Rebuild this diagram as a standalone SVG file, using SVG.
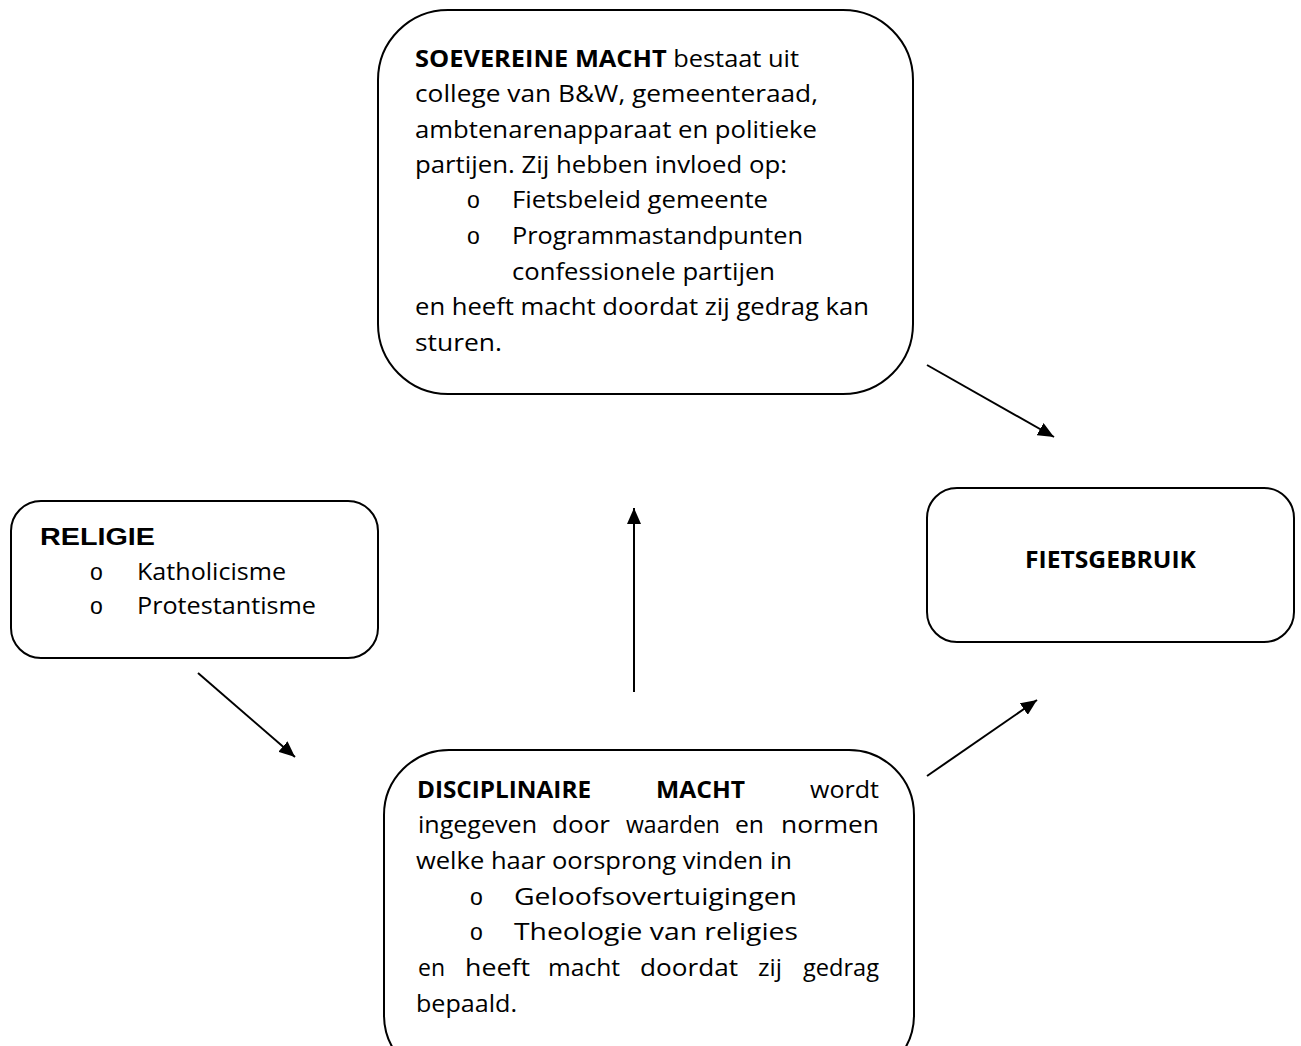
<svg xmlns="http://www.w3.org/2000/svg" width="1301" height="1046" viewBox="0 0 1301 1046">
<defs>
<marker id="ah" viewBox="0 0 16 14" refX="16" refY="7" markerWidth="16" markerHeight="14" markerUnits="userSpaceOnUse" orient="auto">
<path d="M0,0 L16,7 L0,14 z" fill="#000"/>
</marker>
<style>
.box{fill:#fff;stroke:#000;stroke-width:2}
.t{font-family:"Open Sans","Noto Sans",sans-serif;font-size:23px;fill:#000}
.b{font-weight:bold}
.o{font-family:"Liberation Sans",Arial,sans-serif;font-size:23px;fill:#000}
.a{font-family:"Liberation Sans",Arial,sans-serif;font-size:24px;font-weight:bold;fill:#000}
.c{stroke:#000;stroke-width:2;fill:none;marker-end:url(#ah)}
</style>
</defs>
<rect width="1301" height="1046" fill="#fff"/>
<g id="soevereine">
<rect class="box" x="378" y="10" width="535" height="384" rx="70" ry="70"/>
<text class="t" x="415" y="67" textLength="384" lengthAdjust="spacingAndGlyphs"><tspan class="b">SOEVEREINE MACHT</tspan> bestaat uit</text>
<text class="t" x="415" y="102" textLength="403" lengthAdjust="spacingAndGlyphs">college van B&amp;W, gemeenteraad,</text>
<text class="t" x="415" y="138" textLength="402" lengthAdjust="spacingAndGlyphs">ambtenarenapparaat en politieke</text>
<text class="t" x="415" y="173" textLength="372" lengthAdjust="spacingAndGlyphs">partijen. Zij hebben invloed op:</text>
<text class="o" x="467" y="208">o</text>
<text class="t" x="512" y="208" textLength="256" lengthAdjust="spacingAndGlyphs">Fietsbeleid gemeente</text>
<text class="o" x="467" y="244">o</text>
<text class="t" x="512" y="244" textLength="291" lengthAdjust="spacingAndGlyphs">Programmastandpunten</text>
<text class="t" x="512" y="280" textLength="263" lengthAdjust="spacingAndGlyphs">confessionele partijen</text>
<text class="t" x="415" y="315" textLength="454" lengthAdjust="spacingAndGlyphs">en heeft macht doordat zij gedrag kan</text>
<text class="t" x="415" y="351" textLength="87" lengthAdjust="spacingAndGlyphs">sturen.</text>
</g>
<g id="religie">
<rect class="box" x="11" y="501" width="367" height="157" rx="30" ry="30"/>
<text class="a" x="40" y="545" textLength="115" lengthAdjust="spacingAndGlyphs">RELIGIE</text>
<text class="o" x="90" y="580">o</text>
<text class="t" x="137" y="580" textLength="149" lengthAdjust="spacingAndGlyphs">Katholicisme</text>
<text class="o" x="90" y="614">o</text>
<text class="t" x="137" y="614" textLength="179" lengthAdjust="spacingAndGlyphs">Protestantisme</text>
</g>
<g id="fietsgebruik">
<rect class="box" x="927" y="488" width="367" height="154" rx="30" ry="30"/>
<text class="t b" x="1025" y="568" textLength="171" lengthAdjust="spacingAndGlyphs">FIETSGEBRUIK</text>
</g>
<g id="disciplinaire">
<rect class="box" x="384" y="750" width="530" height="330" rx="65" ry="65"/>
<text class="t b" x="417" y="798" textLength="174" lengthAdjust="spacingAndGlyphs">DISCIPLINAIRE</text>
<text class="t b" x="656" y="798" textLength="89" lengthAdjust="spacingAndGlyphs">MACHT</text>
<text class="t" x="810" y="798" textLength="69" lengthAdjust="spacingAndGlyphs">wordt</text>
<text class="t" y="833"><tspan x="418" textLength="119" lengthAdjust="spacingAndGlyphs">ingegeven</tspan><tspan x="552" textLength="58" lengthAdjust="spacingAndGlyphs">door</tspan><tspan x="626" textLength="94" lengthAdjust="spacingAndGlyphs">waarden</tspan><tspan x="735" textLength="29" lengthAdjust="spacingAndGlyphs">en</tspan><tspan x="781" textLength="98" lengthAdjust="spacingAndGlyphs">normen</tspan></text>
<text class="t" x="416" y="869" textLength="376" lengthAdjust="spacingAndGlyphs">welke haar oorsprong vinden in</text>
<text class="o" x="470" y="905">o</text>
<text class="t" x="514" y="905" textLength="283" lengthAdjust="spacingAndGlyphs">Geloofsovertuigingen</text>
<text class="o" x="470" y="940">o</text>
<text class="t" x="514" y="940" textLength="284" lengthAdjust="spacingAndGlyphs">Theologie van religies</text>
<text class="t" y="976"><tspan x="418" textLength="27" lengthAdjust="spacingAndGlyphs">en</tspan><tspan x="465" textLength="65" lengthAdjust="spacingAndGlyphs">heeft</tspan><tspan x="548" textLength="72" lengthAdjust="spacingAndGlyphs">macht</tspan><tspan x="640" textLength="98" lengthAdjust="spacingAndGlyphs">doordat</tspan><tspan x="758" textLength="24" lengthAdjust="spacingAndGlyphs">zij</tspan><tspan x="803" textLength="76" lengthAdjust="spacingAndGlyphs">gedrag</tspan></text>
<text class="t" x="416" y="1012" textLength="101" lengthAdjust="spacingAndGlyphs">bepaald.</text>
</g>
<g id="connectors">
<line class="c" x1="927" y1="365" x2="1054" y2="437"/>
<line class="c" x1="198" y1="673" x2="295" y2="757"/>
<line class="c" x1="634" y1="692" x2="634" y2="508"/>
<line class="c" x1="927" y1="776" x2="1037" y2="700"/>
</g>
</svg>
